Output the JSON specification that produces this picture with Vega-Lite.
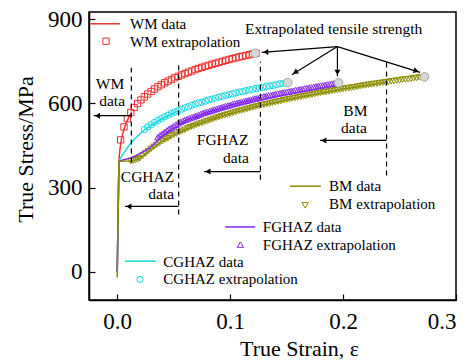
{
  "$schema": "https://vega.github.io/schema/vega-lite/v6.json",
  "width": 367,
  "height": 288,
  "autosize": {"type": "none"},
  "padding": {"left": 89, "top": 12, "right": 18, "bottom": 60},
  "background": "white",
  "config": {
    "view": {"stroke": "black", "strokeWidth": 1.5},
    "axis": {
      "grid": false,
      "domainColor": "black",
      "domainWidth": 1.5,
      "tickColor": "black",
      "tickWidth": 1.2,
      "tickSize": -6,
      "labelFont": "Liberation Serif",
      "labelFontSize": 23,
      "labelColor": "black",
      "titleFont": "Liberation Serif",
      "titleFontSize": 22,
      "titleFontWeight": "normal",
      "titleColor": "black"
    },
    "text": {"font": "Liberation Serif", "fontSize": 15, "color": "black"}
  },
  "encoding": {
    "x": {
      "field": "x", "type": "quantitative",
      "scale": {"domain": [-0.025, 0.3], "nice": false, "zero": false},
      "axis": {"values": [0, 0.1, 0.2, 0.3], "format": ".1f", "labelPadding": 16, "titlePadding": 5, "titleX": 210},
      "title": "True Strain,  ε"
    },
    "y": {
      "field": "y", "type": "quantitative",
      "scale": {"domain": [-100, 925], "nice": false, "zero": false},
      "axis": {"values": [0, 300, 600, 900], "format": "d", "labelPadding": 13, "titlePadding": 10, "titleY": 137},
      "title": "True Stress/MPa"
    }
  },
  "layer": [
    {
      "data": {"values": [
        {"s":"WM","x":0.003,"y":470},{"s":"WM","x":0.006,"y":516},{"s":"WM","x":0.009,"y":545},{"s":"WM","x":0.012,"y":567},{"s":"WM","x":0.015,"y":585},{"s":"WM","x":0.018,"y":599},{"s":"WM","x":0.021,"y":612},{"s":"WM","x":0.024,"y":623},{"s":"WM","x":0.027,"y":633},{"s":"WM","x":0.030,"y":642},{"s":"WM","x":0.033,"y":651},{"s":"WM","x":0.036,"y":659},{"s":"WM","x":0.039,"y":666},{"s":"WM","x":0.042,"y":673},{"s":"WM","x":0.045,"y":679},{"s":"WM","x":0.048,"y":685},{"s":"WM","x":0.051,"y":691},{"s":"WM","x":0.054,"y":696},{"s":"WM","x":0.057,"y":701},{"s":"WM","x":0.060,"y":706},{"s":"WM","x":0.063,"y":711},{"s":"WM","x":0.066,"y":715},{"s":"WM","x":0.069,"y":720},{"s":"WM","x":0.072,"y":724},{"s":"WM","x":0.075,"y":728},{"s":"WM","x":0.078,"y":732},{"s":"WM","x":0.081,"y":735},{"s":"WM","x":0.084,"y":739},{"s":"WM","x":0.087,"y":742},{"s":"WM","x":0.090,"y":746},{"s":"WM","x":0.093,"y":749},{"s":"WM","x":0.096,"y":753},{"s":"WM","x":0.099,"y":756},{"s":"WM","x":0.102,"y":759},{"s":"WM","x":0.105,"y":762},{"s":"WM","x":0.108,"y":765},{"s":"WM","x":0.111,"y":768},{"s":"WM","x":0.114,"y":770},{"s":"WM","x":0.117,"y":773},{"s":"WM","x":0.120,"y":776},{"s":"WM","x":0.123,"y":778},
        {"s":"CGHAZ","x":0.024,"y":507},{"s":"CGHAZ","x":0.027,"y":516},{"s":"CGHAZ","x":0.030,"y":524},{"s":"CGHAZ","x":0.033,"y":532},{"s":"CGHAZ","x":0.036,"y":539},{"s":"CGHAZ","x":0.039,"y":546},{"s":"CGHAZ","x":0.042,"y":552},{"s":"CGHAZ","x":0.045,"y":558},{"s":"CGHAZ","x":0.048,"y":564},{"s":"CGHAZ","x":0.051,"y":569},{"s":"CGHAZ","x":0.054,"y":574},{"s":"CGHAZ","x":0.057,"y":579},{"s":"CGHAZ","x":0.060,"y":584},{"s":"CGHAZ","x":0.063,"y":588},{"s":"CGHAZ","x":0.066,"y":593},{"s":"CGHAZ","x":0.069,"y":597},{"s":"CGHAZ","x":0.072,"y":601},{"s":"CGHAZ","x":0.075,"y":604},{"s":"CGHAZ","x":0.078,"y":608},{"s":"CGHAZ","x":0.081,"y":612},{"s":"CGHAZ","x":0.084,"y":615},{"s":"CGHAZ","x":0.087,"y":618},{"s":"CGHAZ","x":0.090,"y":622},{"s":"CGHAZ","x":0.093,"y":625},{"s":"CGHAZ","x":0.096,"y":628},{"s":"CGHAZ","x":0.099,"y":631},{"s":"CGHAZ","x":0.102,"y":634},{"s":"CGHAZ","x":0.105,"y":637},{"s":"CGHAZ","x":0.108,"y":640},{"s":"CGHAZ","x":0.111,"y":642},{"s":"CGHAZ","x":0.114,"y":645},{"s":"CGHAZ","x":0.117,"y":648},{"s":"CGHAZ","x":0.120,"y":650},{"s":"CGHAZ","x":0.123,"y":653},{"s":"CGHAZ","x":0.126,"y":655},{"s":"CGHAZ","x":0.129,"y":657},{"s":"CGHAZ","x":0.132,"y":660},{"s":"CGHAZ","x":0.135,"y":662},{"s":"CGHAZ","x":0.138,"y":664},{"s":"CGHAZ","x":0.141,"y":667},{"s":"CGHAZ","x":0.144,"y":669},{"s":"CGHAZ","x":0.147,"y":671},{"s":"CGHAZ","x":0.150,"y":673},
        {"s":"FGHAZ","x":0.036,"y":480},{"s":"FGHAZ","x":0.038,"y":486},{"s":"FGHAZ","x":0.040,"y":492},{"s":"FGHAZ","x":0.042,"y":498},{"s":"FGHAZ","x":0.044,"y":504},{"s":"FGHAZ","x":0.046,"y":509},{"s":"FGHAZ","x":0.048,"y":514},{"s":"FGHAZ","x":0.050,"y":519},{"s":"FGHAZ","x":0.052,"y":524},{"s":"FGHAZ","x":0.054,"y":529},{"s":"FGHAZ","x":0.056,"y":534},{"s":"FGHAZ","x":0.058,"y":538},{"s":"FGHAZ","x":0.060,"y":541},{"s":"FGHAZ","x":0.062,"y":544},{"s":"FGHAZ","x":0.064,"y":547},{"s":"FGHAZ","x":0.066,"y":550},{"s":"FGHAZ","x":0.068,"y":553},{"s":"FGHAZ","x":0.070,"y":556},{"s":"FGHAZ","x":0.072,"y":559},{"s":"FGHAZ","x":0.074,"y":562},{"s":"FGHAZ","x":0.076,"y":565},{"s":"FGHAZ","x":0.078,"y":568},{"s":"FGHAZ","x":0.080,"y":570},{"s":"FGHAZ","x":0.082,"y":573},{"s":"FGHAZ","x":0.084,"y":575},{"s":"FGHAZ","x":0.086,"y":578},{"s":"FGHAZ","x":0.088,"y":580},{"s":"FGHAZ","x":0.090,"y":583},{"s":"FGHAZ","x":0.092,"y":585},{"s":"FGHAZ","x":0.094,"y":588},{"s":"FGHAZ","x":0.096,"y":590},{"s":"FGHAZ","x":0.098,"y":592},{"s":"FGHAZ","x":0.100,"y":594},{"s":"FGHAZ","x":0.102,"y":597},{"s":"FGHAZ","x":0.104,"y":599},{"s":"FGHAZ","x":0.106,"y":601},{"s":"FGHAZ","x":0.108,"y":603},{"s":"FGHAZ","x":0.110,"y":605},{"s":"FGHAZ","x":0.112,"y":607},{"s":"FGHAZ","x":0.114,"y":609},{"s":"FGHAZ","x":0.116,"y":611},{"s":"FGHAZ","x":0.118,"y":613},{"s":"FGHAZ","x":0.120,"y":615},{"s":"FGHAZ","x":0.122,"y":617},{"s":"FGHAZ","x":0.124,"y":618},{"s":"FGHAZ","x":0.126,"y":620},{"s":"FGHAZ","x":0.128,"y":622},{"s":"FGHAZ","x":0.130,"y":624},{"s":"FGHAZ","x":0.132,"y":626},{"s":"FGHAZ","x":0.134,"y":628},{"s":"FGHAZ","x":0.136,"y":629},{"s":"FGHAZ","x":0.138,"y":631},{"s":"FGHAZ","x":0.140,"y":633},{"s":"FGHAZ","x":0.142,"y":635},{"s":"FGHAZ","x":0.144,"y":636},{"s":"FGHAZ","x":0.146,"y":638},{"s":"FGHAZ","x":0.148,"y":639},{"s":"FGHAZ","x":0.150,"y":641},{"s":"FGHAZ","x":0.152,"y":642},{"s":"FGHAZ","x":0.154,"y":644},{"s":"FGHAZ","x":0.156,"y":645},{"s":"FGHAZ","x":0.158,"y":647},{"s":"FGHAZ","x":0.160,"y":648},{"s":"FGHAZ","x":0.162,"y":650},{"s":"FGHAZ","x":0.164,"y":651},{"s":"FGHAZ","x":0.166,"y":653},{"s":"FGHAZ","x":0.168,"y":654},{"s":"FGHAZ","x":0.170,"y":656},{"s":"FGHAZ","x":0.172,"y":657},{"s":"FGHAZ","x":0.174,"y":659},{"s":"FGHAZ","x":0.176,"y":660},{"s":"FGHAZ","x":0.178,"y":662},{"s":"FGHAZ","x":0.180,"y":663},{"s":"FGHAZ","x":0.182,"y":664},{"s":"FGHAZ","x":0.184,"y":665},{"s":"FGHAZ","x":0.186,"y":667},{"s":"FGHAZ","x":0.188,"y":668},{"s":"FGHAZ","x":0.190,"y":670},{"s":"FGHAZ","x":0.192,"y":671},{"s":"FGHAZ","x":0.194,"y":672},{"s":"FGHAZ","x":0.196,"y":673},
        {"s":"BM","x":0.012,"y":395},{"s":"BM","x":0.014,"y":396},{"s":"BM","x":0.016,"y":398},{"s":"BM","x":0.018,"y":401},{"s":"BM","x":0.020,"y":405},{"s":"BM","x":0.0225,"y":413},{"s":"BM","x":0.025,"y":421},{"s":"BM","x":0.0275,"y":430},{"s":"BM","x":0.030,"y":438},{"s":"BM","x":0.0325,"y":445},{"s":"BM","x":0.035,"y":452},{"s":"BM","x":0.0375,"y":459},{"s":"BM","x":0.040,"y":465},{"s":"BM","x":0.0425,"y":471},{"s":"BM","x":0.045,"y":476},{"s":"BM","x":0.0475,"y":482},{"s":"BM","x":0.050,"y":487},{"s":"BM","x":0.0525,"y":492},{"s":"BM","x":0.055,"y":497},{"s":"BM","x":0.0575,"y":502},{"s":"BM","x":0.060,"y":506},{"s":"BM","x":0.0625,"y":511},{"s":"BM","x":0.065,"y":515},{"s":"BM","x":0.0675,"y":519},{"s":"BM","x":0.070,"y":523},{"s":"BM","x":0.0725,"y":527},{"s":"BM","x":0.075,"y":530},{"s":"BM","x":0.0775,"y":534},{"s":"BM","x":0.080,"y":537},{"s":"BM","x":0.0825,"y":541},{"s":"BM","x":0.085,"y":544},{"s":"BM","x":0.0875,"y":548},{"s":"BM","x":0.090,"y":551},{"s":"BM","x":0.0925,"y":554},{"s":"BM","x":0.095,"y":557},{"s":"BM","x":0.0975,"y":560},{"s":"BM","x":0.100,"y":563},{"s":"BM","x":0.1025,"y":566},{"s":"BM","x":0.105,"y":569},{"s":"BM","x":0.1075,"y":572},{"s":"BM","x":0.110,"y":574},{"s":"BM","x":0.1125,"y":577},{"s":"BM","x":0.115,"y":580},{"s":"BM","x":0.1175,"y":583},{"s":"BM","x":0.120,"y":585},{"s":"BM","x":0.1225,"y":588},{"s":"BM","x":0.125,"y":590},{"s":"BM","x":0.1275,"y":593},{"s":"BM","x":0.130,"y":595},{"s":"BM","x":0.1325,"y":597},{"s":"BM","x":0.135,"y":599},{"s":"BM","x":0.1375,"y":602},{"s":"BM","x":0.140,"y":604},{"s":"BM","x":0.1425,"y":606},{"s":"BM","x":0.145,"y":608},{"s":"BM","x":0.1475,"y":611},{"s":"BM","x":0.150,"y":613},{"s":"BM","x":0.1525,"y":615},{"s":"BM","x":0.155,"y":617},{"s":"BM","x":0.1575,"y":619},{"s":"BM","x":0.160,"y":621},{"s":"BM","x":0.1625,"y":623},{"s":"BM","x":0.165,"y":625},{"s":"BM","x":0.1675,"y":627},{"s":"BM","x":0.170,"y":629},{"s":"BM","x":0.1725,"y":631},{"s":"BM","x":0.175,"y":633},{"s":"BM","x":0.1775,"y":635},{"s":"BM","x":0.180,"y":637},{"s":"BM","x":0.1825,"y":639},{"s":"BM","x":0.185,"y":640},{"s":"BM","x":0.1875,"y":642},{"s":"BM","x":0.190,"y":644},{"s":"BM","x":0.1925,"y":646},{"s":"BM","x":0.195,"y":647},{"s":"BM","x":0.1975,"y":649},{"s":"BM","x":0.200,"y":651},{"s":"BM","x":0.2025,"y":653},{"s":"BM","x":0.205,"y":654},{"s":"BM","x":0.2075,"y":656},{"s":"BM","x":0.210,"y":657},{"s":"BM","x":0.2125,"y":659},{"s":"BM","x":0.215,"y":661},{"s":"BM","x":0.2175,"y":663},{"s":"BM","x":0.220,"y":664},{"s":"BM","x":0.2225,"y":666},{"s":"BM","x":0.225,"y":667},{"s":"BM","x":0.2275,"y":669},{"s":"BM","x":0.230,"y":670},{"s":"BM","x":0.2325,"y":672},{"s":"BM","x":0.235,"y":673},{"s":"BM","x":0.2375,"y":675},{"s":"BM","x":0.240,"y":676},{"s":"BM","x":0.2425,"y":678},{"s":"BM","x":0.245,"y":679},{"s":"BM","x":0.2475,"y":681},{"s":"BM","x":0.250,"y":682},{"s":"BM","x":0.2525,"y":684},{"s":"BM","x":0.255,"y":685},{"s":"BM","x":0.2575,"y":686},{"s":"BM","x":0.260,"y":687},{"s":"BM","x":0.2625,"y":689},{"s":"BM","x":0.265,"y":690},{"s":"BM","x":0.2675,"y":692},{"s":"BM","x":0.270,"y":693},{"s":"BM","x":0.2725,"y":694}
      ]},
      "mark": {"type": "point", "filled": false, "strokeWidth": 1, "opacity": 1, "size": 40},
      "encoding": {
        "shape": {"field": "s", "type": "nominal", "scale": {"domain": ["WM","CGHAZ","FGHAZ","BM"], "range": ["square","circle","triangle-up","triangle-down"]}, "legend": null},
        "stroke": {"field": "s", "type": "nominal", "scale": {"domain": ["WM","CGHAZ","FGHAZ","BM"], "range": ["#f03030","#18d6e4","#8428f0","#8c8c00"]}, "legend": null}
      }
    },
    {
      "data": {"values": [
        {"s":"WM","x":0,"y":0},{"s":"WM","x":0.0015,"y":392},{"s":"WM","x":0.002,"y":420},{"s":"WM","x":0.003,"y":455},{"s":"WM","x":0.004,"y":478},{"s":"WM","x":0.006,"y":508},{"s":"WM","x":0.008,"y":530},{"s":"WM","x":0.010,"y":548},{"s":"WM","x":0.0125,"y":566},
        {"s":"CGHAZ","x":0,"y":0},{"s":"CGHAZ","x":0.0015,"y":394},{"s":"CGHAZ","x":0.003,"y":405},{"s":"CGHAZ","x":0.005,"y":418},{"s":"CGHAZ","x":0.007,"y":430},{"s":"CGHAZ","x":0.009,"y":442},{"s":"CGHAZ","x":0.0115,"y":455},{"s":"CGHAZ","x":0.014,"y":467},{"s":"CGHAZ","x":0.017,"y":479},{"s":"CGHAZ","x":0.020,"y":491},{"s":"CGHAZ","x":0.024,"y":505},{"s":"CGHAZ","x":0.030,"y":522},{"s":"CGHAZ","x":0.040,"y":546},{"s":"CGHAZ","x":0.0544,"y":574},
        {"s":"FGHAZ","x":0,"y":0},{"s":"FGHAZ","x":0.0015,"y":394},{"s":"FGHAZ","x":0.005,"y":398},{"s":"FGHAZ","x":0.0115,"y":405},{"s":"FGHAZ","x":0.016,"y":413},{"s":"FGHAZ","x":0.020,"y":422},{"s":"FGHAZ","x":0.025,"y":432},{"s":"FGHAZ","x":0.029,"y":442},{"s":"FGHAZ","x":0.034,"y":460},{"s":"FGHAZ","x":0.038,"y":477},{"s":"FGHAZ","x":0.046,"y":500},{"s":"FGHAZ","x":0.054,"y":520},{"s":"FGHAZ","x":0.060,"y":538},{"s":"FGHAZ","x":0.080,"y":568},{"s":"FGHAZ","x":0.100,"y":593},{"s":"FGHAZ","x":0.1268,"y":621},
        {"s":"BM","x":0,"y":-20},{"s":"BM","x":0.0015,"y":394},{"s":"BM","x":0.012,"y":395},{"s":"BM","x":0.016,"y":398},{"s":"BM","x":0.020,"y":404},{"s":"BM","x":0.025,"y":420},{"s":"BM","x":0.030,"y":437},{"s":"BM","x":0.040,"y":465},{"s":"BM","x":0.050,"y":487},{"s":"BM","x":0.070,"y":523},{"s":"BM","x":0.090,"y":551},{"s":"BM","x":0.120,"y":585},{"s":"BM","x":0.160,"y":621},{"s":"BM","x":0.200,"y":651},{"s":"BM","x":0.2385,"y":675}
      ]},
      "mark": {"type": "line", "strokeWidth": 1.5},
      "encoding": {
        "stroke": {"field": "s", "type": "nominal", "legend": null},
        "detail": {"field": "s"}
      }
    },
    {
      "data": {"values": [
        {"x":0.1223,"y":778},{"x":0.151,"y":674},{"x":0.196,"y":673},{"x":0.272,"y":694}
      ]},
      "mark": {"type": "point", "shape": "circle", "filled": true, "fill": "#d6d6d6", "stroke": "#a8a8a8", "strokeWidth": 1, "size": 75, "opacity": 1}
    },
    {
      "data": {"values": [
        {"x":0.0125,"y":389,"y2":727},{"x":0.0544,"y":204,"y2":735},{"x":0.1268,"y":328,"y2":748},{"x":0.2385,"y":343,"y2":755}
      ]},
      "mark": {"type": "rule", "color": "black", "strokeWidth": 1.2, "strokeDash": [5, 4]},
      "encoding": {"y2": {"field": "y2"}}
    },
    {
      "data": {"values": [
        {"x":0.0125,"x2":-0.0208,"y":556},{"x":0.0544,"x2":0.0069,"y":233},{"x":0.1268,"x2":0.077,"y":357},{"x":0.2385,"x2":0.1796,"y":468}
      ]},
      "mark": {"type": "rule", "color": "black", "strokeWidth": 1.2},
      "encoding": {"x2": {"field": "x2"}}
    },
    {
      "data": {"values": [
        {"x":-0.0175,"y":556},{"x":0.0102,"y":233},{"x":0.0803,"y":357},{"x":0.1829,"y":468}
      ]},
      "mark": {"type": "point", "shape": "triangle-left", "filled": true, "color": "black", "size": 36, "opacity": 1}
    },
    {
      "data": {"values": [
        {"s":"WM","x":0.195,"y":802,"x2":0.128,"y2":781},{"s":"CGHAZ","x":0.195,"y":802,"x2":0.1546,"y2":702},{"s":"FGHAZ","x":0.195,"y":802,"x2":0.195,"y2":696},{"s":"BM","x":0.195,"y":802,"x2":0.2682,"y2":710}
      ]},
      "mark": {"type": "rule", "color": "black", "strokeWidth": 1.2},
      "encoding": {"x2": {"field": "x2"}, "y2": {"field": "y2"}}
    },
    {
      "data": {"values": [
        {"s":"WM","x":0.1315,"y":782},{"s":"CGHAZ","x":0.1576,"y":710},{"s":"FGHAZ","x":0.195,"y":710},{"s":"BM","x":0.2648,"y":715}
      ]},
      "mark": {"type": "point", "shape": "triangle-up", "filled": true, "color": "black", "size": 36, "opacity": 1},
      "encoding": {
        "angle": {"field": "s", "type": "nominal", "scale": {"type": "ordinal", "domain": ["WM","CGHAZ","FGHAZ","BM"], "range": [265.7, 238.5, 180, 107.3]}, "legend": null}
      }
    },
    {
      "data": {"values": [
        {"s":"WM","x":-0.0235,"x2":0.0025,"y":883},{"s":"BM","x":0.1531,"x2":0.1803,"y":305},{"s":"FGHAZ","x":0.0955,"x2":0.1221,"y":160},{"s":"CGHAZ","x":0.0069,"x2":0.0341,"y":38}
      ]},
      "mark": {"type": "rule", "strokeWidth": 1.5},
      "encoding": {
        "x2": {"field": "x2"},
        "stroke": {"field": "s", "type": "nominal", "legend": null}
      }
    },
    {
      "data": {"values": [
        {"s":"WM","x":-0.0099,"y":821},{"s":"BM","x":0.1664,"y":237},{"s":"FGHAZ","x":0.1091,"y":97},{"s":"CGHAZ","x":0.0202,"y":-27}
      ]},
      "mark": {"type": "point", "filled": false, "strokeWidth": 1, "opacity": 1, "size": 40},
      "encoding": {
        "shape": {"field": "s", "type": "nominal", "legend": null},
        "stroke": {"field": "s", "type": "nominal", "legend": null}
      }
    },
    {
      "data": {"values": [
        {"x":0.0113,"y":883,"t":"WM data"},{"x":0.0113,"y":820,"t":"WM extrapolation"},
        {"x":0.1876,"y":307,"t":"BM data"},{"x":0.1876,"y":240,"t":"BM extrapolation"},
        {"x":0.1289,"y":161,"t":"FGHAZ data"},{"x":0.1289,"y":97,"t":"FGHAZ extrapolation"},
        {"x":0.0408,"y":37,"t":"CGHAZ data"},{"x":0.0408,"y":-27,"t":"CGHAZ extrapolation"}
      ]},
      "mark": {"type": "text", "align": "left", "baseline": "middle"},
      "encoding": {"text": {"field": "t"}}
    },
    {
      "data": {"values": [
        {"x":-0.0064,"y":670,"t":"WM"},{"x":-0.0045,"y":610,"t":"data"},
        {"x":0.0268,"y":339,"t":"CGHAZ"},{"x":0.039,"y":279,"t":"data"},
        {"x":0.0933,"y":471,"t":"FGHAZ"},{"x":0.1052,"y":407,"t":"data"},
        {"x":0.2109,"y":571,"t":"BM"},{"x":0.2097,"y":512,"t":"data"},
        {"x":0.1916,"y":865,"t":"Extrapolated tensile strength"}
      ]},
      "mark": {"type": "text", "align": "center", "baseline": "middle", "fontSize": 15.5},
      "encoding": {"text": {"field": "t"}}
    }
  ]
}
